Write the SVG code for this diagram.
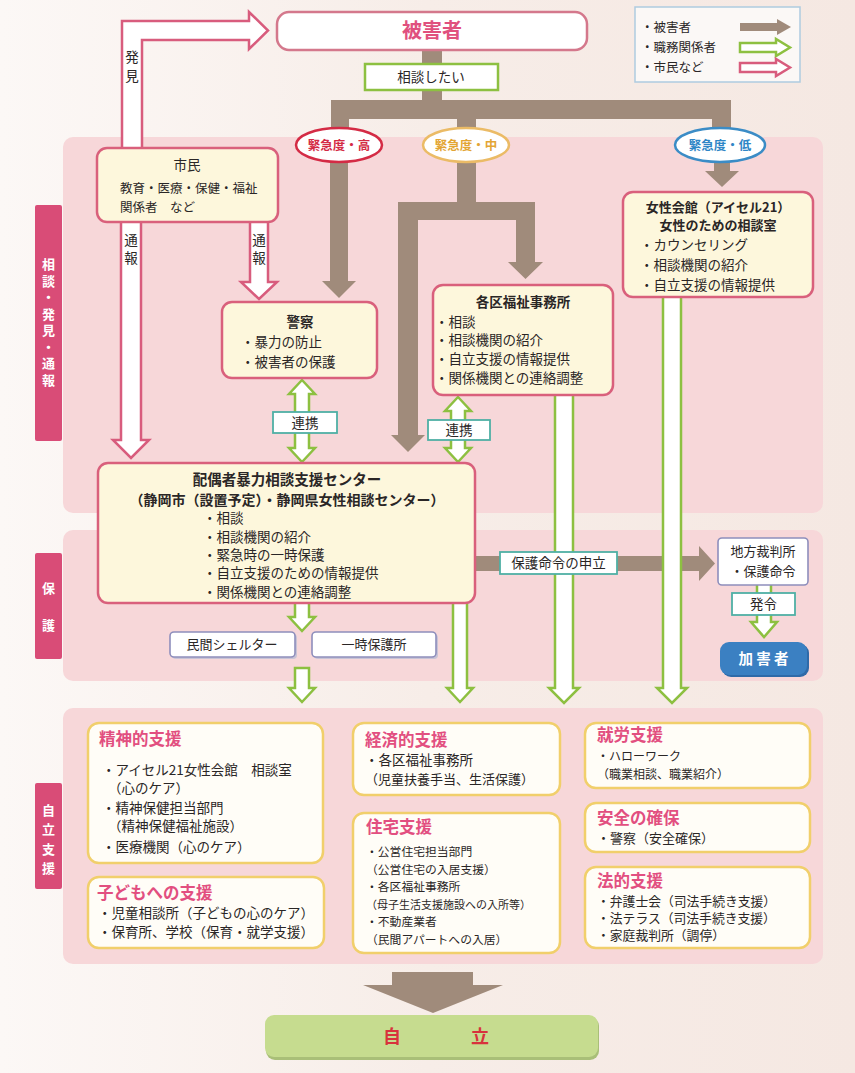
<svg xmlns="http://www.w3.org/2000/svg" width="855" height="1073" viewBox="0 0 855 1073">
<defs>
<linearGradient id="bg" x1="0" y1="0" x2="1" y2="0">
<stop offset="0" stop-color="#fcf8f6"/>
<stop offset="0.5" stop-color="#f7ede8"/>
<stop offset="1" stop-color="#f5e8e2"/>
</linearGradient>
<style>
text{font-family:"Noto Sans CJK JP","Noto Sans",sans-serif;fill:#2a2626;font-size:13.5px}
.c{text-anchor:middle}
.b{font-weight:bold}
.v{writing-mode:vertical-rl}
.panel{fill:#f7d7d9}
.tab{fill:#d94c77}
.tabt{fill:#fff;font-weight:bold;font-size:13px}
.brown{fill:#a08b7b}
.pink{fill:#fff;stroke:#d85c7d;stroke-width:2.5;stroke-linejoin:miter}
.green{fill:#fff;stroke:#8dc041;stroke-width:2.5;stroke-linejoin:miter}
.cream{fill:#fdf7dc;stroke:#d9607c;stroke-width:2.5}
.sup{fill:#fffdf7;stroke:#f1cf6b;stroke-width:2.5}
.lbl{fill:#fff;stroke:#4fb0a5;stroke-width:1.8}
.lav{fill:#fff;stroke:#8e8ebc;stroke-width:1.6}
.pt{fill:#e24f80;font-weight:bold;font-size:16.5px}
.h{font-size:11.8px}
</style>
</defs>
<rect width="855" height="1073" fill="url(#bg)"/>

<g id="sections">
<rect class="panel" x="63" y="137" width="760" height="376" rx="10"/>
<rect class="panel" x="63" y="530" width="760" height="151" rx="10"/>
<rect class="panel" x="63" y="708" width="760" height="256" rx="10"/>
<rect class="tab" x="35" y="205" width="27" height="236" rx="2"/>
<rect class="tab" x="35" y="553" width="27" height="106" rx="2"/>
<rect class="tab" x="35" y="783" width="27" height="106" rx="2"/>
<text class="tabt v" x="48.5" y="258" style="letter-spacing:3.5px">相談・発見・通報</text>
<text class="tabt v" x="48.5" y="581.5" style="letter-spacing:24px">保護</text>
<text class="tabt v" x="48.5" y="803.5" style="letter-spacing:6.5px">自立支援</text>
</g>

<g id="connectors">
<!-- brown (victim) -->
<rect class="brown" x="422" y="48" width="20" height="55"/>
<rect class="brown" x="331" y="100" width="400" height="19"/>
<rect class="brown" x="331" y="100" width="18" height="30"/>
<path class="brown" d="M330,160 L330,281 L322,281 L339,298 L356,281 L348,281 L348,160 Z"/>
<rect class="brown" x="712" y="100" width="19" height="30"/>
<path class="brown" d="M714,160 L714,171 L705,171 L722,187 L739,171 L730,171 L730,160 Z"/>
<rect class="brown" x="457" y="115" width="19" height="15"/>
<rect class="brown" x="457" y="160" width="19" height="45"/>
<rect class="brown" x="398" y="202" width="137" height="18"/>
<path class="brown" d="M398,202 L398,435 L391,435 L408,452 L425,435 L418,435 L418,202 Z"/>
<path class="brown" d="M516,202 L516,262 L508,262 L525.5,279 L543,262 L535,262 L535,202 Z"/>
<path class="brown" d="M475,556 L699,556 L699,546 L715,563.5 L699,581 L699,571 L475,571 Z"/>
<path class="brown" d="M392,972 L473,972 L473,985 L503,985 L433,1013 L363,985 L392,985 Z"/>
<!-- pink (citizens) -->
<path class="pink" d="M122,150 L122,21 L249,21 L249,12 L268,30.5 L249,49 L249,40 L142,40 L142,150"/>
<path class="pink" d="M121,220 L121,440 L113,440 L131,458 L149,440 L141,440 L141,220"/>
<path class="pink" d="M250,220 L250,282 L241,282 L259,299 L277,282 L268,282 L268,220"/>
<text class="v" x="132" y="50" style="letter-spacing:5.5px">発見</text>
<text class="v" x="131" y="233" style="letter-spacing:4.5px">通報</text>
<text class="v" x="259" y="233" style="letter-spacing:4.5px">通報</text>
<!-- green (professionals) -->
<path class="green" d="M302,380 L315,394 L309,394 L309,448 L315,448 L302,462 L289,448 L295,448 L295,394 L289,394 Z"/>
<path class="green" d="M458,397 L471,411 L465,411 L465,448 L471,448 L458,462 L445,448 L451,448 L451,411 L445,411 Z"/>
<path class="green" d="M453,600 L453,688 L447,688 L460,702 L473,688 L467,688 L467,600"/>
<path class="green" d="M555,393 L555,688 L549,688 L564,703 L579,688 L573,688 L573,393"/>
<path class="green" d="M663,295 L663,688 L657,688 L672,703 L687,688 L681,688 L681,295"/>
<path class="green" d="M295,600 L295,617 L289,617 L302,631 L315,617 L309,617 L309,600"/>
<path class="green" d="M295,668 L295,688 L289,688 L302,702 L315,688 L309,688 L309,668 Z"/>
<path class="green" d="M757,584 L757,622 L751,622 L764,637 L777,622 L771,622 L771,584"/>
<!-- labels -->
<rect x="365" y="64" width="133" height="26" fill="#fff" stroke="#8dc041" stroke-width="2.5"/>
<text class="c" x="431" y="82">相談したい</text>
<rect class="lbl" x="273" y="412" width="64" height="21"/>
<text class="c" x="305" y="427.5">連携</text>
<rect class="lbl" x="428" y="420" width="62" height="20"/>
<text class="c" x="459" y="435">連携</text>
<rect class="lbl" x="500" y="552" width="117" height="22"/>
<text class="c" x="558.5" y="568">保護命令の申立</text>
<rect class="lbl" x="732" y="593" width="63" height="22"/>
<text class="c" x="763.5" y="609">発令</text>
</g>

<g id="legend">
<rect x="635" y="7" width="165" height="75" fill="#fbf8f6" stroke="#aecbe0" stroke-width="1.5"/>
<text x="641" y="32" style="font-size:12.5px">・被害者</text>
<text x="641" y="52" style="font-size:12.5px">・職務関係者</text>
<text x="641" y="72" style="font-size:12.5px">・市民など</text>
<path class="brown" d="M740,23 L777,23 L777,19 L791,27 L777,35 L777,31 L740,31 Z"/>
<path class="green" d="M740,43 L776,43 L776,39 L790,47.5 L776,56 L776,52 L740,52 Z"/>
<path class="pink" d="M740,63 L776,63 L776,59 L790,67.5 L776,76 L776,72 L740,72 Z"/>
</g>

<g id="victim">
<rect x="277" y="12" width="310" height="38" rx="12" fill="#fff" stroke="#d4788c" stroke-width="2.5"/>
<text class="c b" x="432" y="38" style="fill:#e0507e;font-size:20px">被害者</text>
</g>

<g id="urgency-high">
<ellipse cx="339" cy="145" rx="43" ry="17" fill="#fff" stroke="#d42b45" stroke-width="2.5"/>
<text class="c b" x="339" y="150" style="fill:#d42b45;font-size:12.5px">緊急度・高</text>
</g>
<g id="urgency-mid">
<ellipse cx="466" cy="145" rx="43" ry="17" fill="#fff" stroke="#ebbb66" stroke-width="2.5"/>
<text class="c b" x="466" y="150" style="fill:#e3a534;font-size:12.5px">緊急度・中</text>
</g>
<g id="urgency-low">
<ellipse cx="720" cy="145" rx="45" ry="17" fill="#fff" stroke="#3b8cc6" stroke-width="2.5"/>
<text class="c b" x="720" y="150" style="fill:#2f86c6;font-size:12.5px">緊急度・低</text>
</g>

<g id="citizens">
<rect class="cream" x="97" y="148" width="181" height="74" rx="10"/>
<text class="c" x="187" y="170">市民</text>
<text x="120" y="193" style="font-size:12.5px">教育・医療・保健・福祉</text>
<text x="120" y="212" style="font-size:12.5px">関係者　など</text>
</g>

<g id="police">
<rect class="cream" x="222" y="302" width="155" height="76" rx="10"/>
<text class="c b" x="300" y="327">警察</text>
<text x="241" y="347">・暴力の防止</text>
<text x="241" y="367">・被害者の保護</text>
</g>

<g id="womens-center">
<rect class="cream" x="623" y="192" width="190" height="105" rx="10"/>
<text class="c b" x="718" y="211.5" style="font-size:13px">女性会館（アイセル21）</text>
<text class="c b" x="718" y="230" style="font-size:13px">女性のための相談室</text>
<text x="640" y="250">・カウンセリング</text>
<text x="640" y="270">・相談機関の紹介</text>
<text x="640" y="290">・自立支援の情報提供</text>
</g>

<g id="welfare-office">
<rect class="cream" x="433" y="285" width="180" height="110" rx="10"/>
<text class="c b" x="523" y="307">各区福祉事務所</text>
<text x="435" y="327">・相談</text>
<text x="435" y="345">・相談機関の紹介</text>
<text x="435" y="364">・自立支援の情報提供</text>
<text x="435" y="383">・関係機関との連絡調整</text>
</g>

<g id="dv-center">
<rect class="cream" x="98" y="463" width="377" height="140" rx="10"/>
<text class="c b" x="287" y="485" style="font-size:14.5px">配偶者暴力相談支援センター</text>
<text class="c b" x="287" y="504.5" style="font-size:14px">（静岡市（設置予定）・静岡県女性相談センター）</text>
<text x="203" y="523">・相談</text>
<text x="203" y="542">・相談機関の紹介</text>
<text x="203" y="560">・緊急時の一時保護</text>
<text x="203" y="578">・自立支援のための情報提供</text>
<text x="203" y="597">・関係機関との連絡調整</text>
</g>

<g id="shelter-private">
<rect x="172" y="634" width="125" height="25" rx="4" fill="#c9c4d6"/>
<rect class="lav" x="170" y="632" width="125" height="25" rx="4"/>
<text class="c" x="232" y="649" style="font-size:13px">民間シェルター</text>
</g>
<g id="shelter-public">
<rect x="314" y="634" width="124" height="25" rx="4" fill="#c9c4d6"/>
<rect class="lav" x="312" y="632" width="124" height="25" rx="4"/>
<text class="c" x="374" y="649" style="font-size:13px">一時保護所</text>
</g>

<g id="court">
<rect class="lav" x="718" y="538" width="90" height="47" rx="4"/>
<text class="c" x="763" y="556" style="font-size:13px">地方裁判所</text>
<text class="c" x="763" y="576" style="font-size:13px">・保護命令</text>
</g>

<g id="perpetrator">
<rect x="722" y="644" width="87" height="33" rx="9" fill="#2f6aa8"/>
<rect x="720" y="642" width="87" height="33" rx="9" fill="#3b80c2"/>
<text class="c b" x="763.5" y="664" style="fill:#fff;font-size:14.5px">加 害 者</text>
</g>

<g id="mental-support">
<rect class="sup" x="88" y="723" width="235" height="140" rx="11"/>
<text class="pt" x="99" y="745">精神的支援</text>
<text x="102" y="775">・アイセル21女性会館　相談室</text>
<text x="108" y="793">（心のケア）</text>
<text x="102" y="813">・精神保健担当部門</text>
<text x="108" y="831">（精神保健福祉施設）</text>
<text x="102" y="852">・医療機関（心のケア）</text>
</g>

<g id="child-support">
<rect class="sup" x="88" y="877" width="236" height="71" rx="11"/>
<text class="pt" x="97" y="899">子どもへの支援</text>
<text x="98" y="918" style="font-size:13.5px">・児童相談所（子どもの心のケア）</text>
<text x="98" y="937" style="font-size:13.5px">・保育所、学校（保育・就学支援）</text>
</g>

<g id="economic-support">
<rect class="sup" x="353" y="723" width="207" height="72" rx="11"/>
<text class="pt" x="365" y="746">経済的支援</text>
<text x="365" y="765">・各区福祉事務所</text>
<text x="365" y="784" style="font-size:13px">（児童扶養手当、生活保護）</text>
</g>

<g id="housing-support">
<rect class="sup" x="353" y="813" width="207" height="140" rx="11"/>
<text class="pt" x="366" y="833">住宅支援</text>
<text class="h" x="366" y="856">・公営住宅担当部門</text>
<text class="h" x="366" y="873.5">（公営住宅の入居支援）</text>
<text class="h" x="366" y="891">・各区福祉事務所</text>
<text x="366" y="908.5" style="font-size:11px">（母子生活支援施設への入所等）</text>
<text class="h" x="366" y="926">・不動産業者</text>
<text class="h" x="366" y="943.5">（民間アパートへの入居）</text>
</g>

<g id="employment-support">
<rect class="sup" x="585" y="723" width="225" height="65" rx="11"/>
<text class="pt" x="597" y="741">就労支援</text>
<text x="597" y="761" style="font-size:12px">・ハローワーク</text>
<text x="597" y="779" style="font-size:12px">（職業相談、職業紹介）</text>
</g>

<g id="safety">
<rect class="sup" x="585" y="803" width="225" height="49" rx="11"/>
<text class="pt" x="597" y="824">安全の確保</text>
<text x="597" y="843" style="font-size:13px">・警察（安全確保）</text>
</g>

<g id="legal-support">
<rect class="sup" x="585" y="867" width="225" height="81" rx="11"/>
<text class="pt" x="597" y="886.5">法的支援</text>
<text x="597" y="905.5" style="font-size:12.8px">・弁護士会（司法手続き支援）</text>
<text x="597" y="922.5" style="font-size:12.8px">・法テラス（司法手続き支援）</text>
<text x="597" y="939.5" style="font-size:12.8px">・家庭裁判所（調停）</text>
</g>

<g id="independence">
<rect x="266" y="1017" width="333" height="43" rx="9" fill="#a9bf78"/>
<rect x="265" y="1015" width="333" height="42" rx="9" fill="#c6dc8f"/>
<text class="b" x="383" y="1043" style="fill:#d8323c;font-size:18px">自</text>
<text class="b" x="471" y="1043" style="fill:#d8323c;font-size:18px">立</text>
</g>
</svg>
